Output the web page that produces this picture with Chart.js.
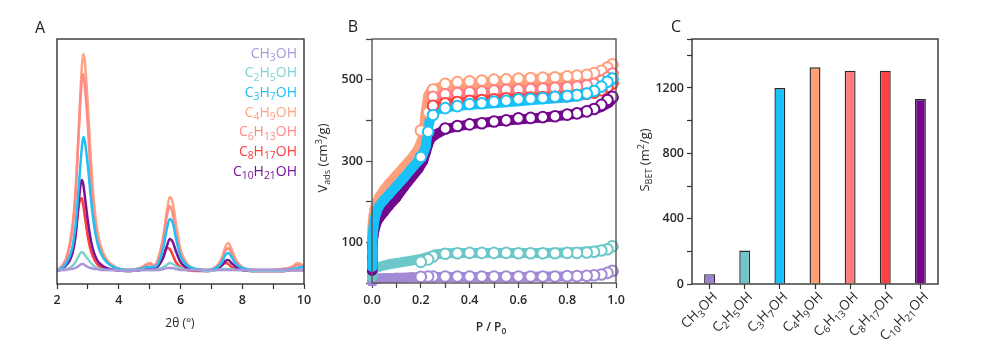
<!DOCTYPE html>
<html><head><meta charset="utf-8">
<script src="https://cdn.jsdelivr.net/npm/chart.js@4.4.1/dist/chart.umd.min.js"></script>
<style>
html,body{margin:0;padding:0;background:#fff;}
#wrap{position:relative;width:987px;height:354px;overflow:hidden;background:#fff;}
canvas{position:absolute;left:0;top:0;}
</style></head><body>
<div id="wrap">
<canvas id="cA" width="987" height="354"></canvas>
<canvas id="cB" width="987" height="354"></canvas>
<canvas id="cC" width="987" height="354"></canvas>
</div>
<script>
// ---------- DATA ----------
const alcohols = ['CH3OH','C2H5OH','C3H7OH','C4H9OH','C6H13OH','C8H17OH','C10H21OH'];

// Panel A: XRD, 2theta (deg) and intensity (a.u.)
const twoTheta = [2.0,2.1,2.2,2.3,2.4,2.5,2.6,2.7,2.8,2.85,2.9,3.0,3.1,3.2,3.3,3.4,3.6,3.9,4.3,4.7,4.9,5.0,5.15,5.3,5.45,5.55,5.65,5.75,5.85,6.0,6.2,6.5,6.9,7.2,7.35,7.45,7.55,7.65,7.8,8.0,8.4,8.9,9.3,9.6,9.8,9.9,10.0];
const xrdCH3OH   = [1,1,1,1,2,2,3,5,7,7,6,4,3,2,2,1,1,1,0,1,1,1,1,1,2,3,3,3,2,1,1,1,1,1,1,1,1,1,1,1,1,1,1,1,1,1,1];
const xrdC2H5OH  = [0,1,1,2,3,5,9,15,19,18,16,12,8,5,3,2,1,1,0,1,1,1,1,2,4,6,8,7,5,3,1,1,0,1,2,2,2,2,1,1,0,0,0,1,1,1,1];
const xrdC3H7OH  = [0,2,4,8,14,24,45,82,122,134,130,105,72,46,29,19,9,3,1,2,4,4,4,9,24,41,52,48,33,15,6,2,1,4,9,16,18,14,7,3,1,1,1,2,3,4,4];
const xrdC4H9OH  = [0,3,7,13,25,45,80,140,202,217,210,165,110,68,42,27,12,4,1,3,7,8,6,15,36,58,74,68,48,22,8,2,1,6,14,24,28,22,11,4,1,1,2,4,8,7,5];
const xrdC6H13OH = [0,3,6,12,24,42,76,135,190,197,185,145,90,55,34,22,10,3,1,3,6,7,5,13,34,54,65,57,38,17,6,2,1,5,12,20,23,18,9,3,1,1,2,3,6,5,4];
const xrdC8H17OH = [0,1,3,6,10,18,36,64,73,66,55,34,20,12,7,4,2,1,0,1,2,2,2,6,15,23,22,16,9,4,1,0,0,2,6,8,7,4,2,1,0,0,0,1,1,1,1];
const xrdC10H21OH= [0,1,3,6,10,18,35,68,91,87,75,50,30,18,11,7,3,1,0,1,2,2,2,6,14,24,32,29,20,9,3,1,0,2,6,10,11,8,4,1,0,0,0,1,1,1,1];
const xTickLabelsA = [2,4,6,8,10];

// Panel B: N2 isotherms, P/P0 and Vads (cm3/g)
const pRelAds = [0.0,0.001,0.003,0.006,0.01,0.02,0.03,0.05,0.07,0.10,0.13,0.16,0.19,0.21,0.22,0.23,0.24,0.26,0.30,0.35,0.40,0.50,0.60,0.70,0.80,0.85,0.90,0.94,0.97,0.99];
const adsCH3OH   = [2,4,6,8,9,10,11,12,12,13,13,14,14,14,15,15,15,15,15,15,15,15,15,16,16,17,18,20,24,28];
const adsC2H5OH  = [15,22,28,32,35,38,40,43,46,49,52,55,58,60,62,64,66,70,73,74,74,74,74,74,75,76,78,81,85,89];
const adsC3H7OH  = [40,75,110,135,155,178,190,205,218,238,258,280,300,318,335,380,410,425,432,435,438,442,447,452,456,460,468,478,490,500];
const adsC4H9OH  = [50,100,140,165,180,200,212,230,245,265,285,305,330,360,420,460,470,478,485,488,490,495,498,502,506,509,513,520,528,535];
const adsC6H13OH = [44,88,125,150,168,188,200,216,231,251,271,292,315,340,390,438,450,458,464,468,471,475,478,481,485,488,493,500,508,516];
const adsC8H17OH = [40,78,112,138,158,180,193,208,222,242,262,284,305,325,360,420,435,445,450,453,455,458,460,463,466,468,472,478,485,492];
const adsC10H21OH= [30,65,95,115,130,150,160,175,190,210,235,258,280,300,320,340,355,365,378,385,390,397,402,407,413,418,425,433,443,455];
const pRelDes = [0.985,0.965,0.94,0.91,0.88,0.84,0.80,0.75,0.70,0.65,0.60,0.55,0.50,0.45,0.40,0.35,0.30,0.25,0.23,0.20];
const desCH3OH   = [30,25,21,19,18,17,17,16,16,16,16,16,16,16,16,16,16,16,16,15];
const desC2H5OH  = [90,83,80,77,75,74,74,73,73,73,73,74,74,74,74,73,72,65,58,52];
const desC3H7OH  = [503,495,483,472,466,462,460,458,455,453,452,448,446,442,440,435,430,413,372,310];
const desC4H9OH  = [538,530,522,516,512,510,508,506,505,504,503,501,500,498,496,494,490,476,420,375];
const desC6H13OH = [515,505,497,490,486,483,481,480,478,477,476,475,473,471,469,467,464,458,null,null];
const desC8H17OH = [490,482,474,468,465,462,460,458,457,456,455,454,452,450,448,445,442,436,null,null];
const desC10H21OH= [458,450,438,428,422,417,414,410,408,406,405,400,397,393,390,386,380,null,null,null];
const yTickLabelsB = [100,300,500];

// Panel C: BET surface area (m2/g)
const sBET = [60,205,1200,1327,1306,1306,1132];
const yTickLabelsC = [0,400,800,1200];

// ---------- STYLES ----------
const lineColorsA = ['#ab96dc','#7fd0cf','#22c0f2','#ffa384','#ff8a86','#ff3d3d','#7b1396'];
const colorsB = ['#a38ad6','#6cc8c8','#18c2f8','#ffa07c','#ff7e80','#ff4242','#72088e'];
const colorsC = ['#9b80d2','#6cc6ca','#19c0f9','#ffa07a','#ff7c7c','#fc4242','#75078f'];
const FONT = "'Open Sans', 'DejaVu Sans', sans-serif";
const TXT = '#2a2a2a';

// ---------- helpers ----------
function chemSegs(s){
  return s.split(/(\d+)/).filter(t=>t.length).map(t=>({t, sub:/^\d+$/.test(t)}));
}
function drawRich(ctx, segs, x, y, size, color, align, weight, ratio){
  weight = weight || 'normal'; ratio = ratio || 0.7;
  const big = weight+' '+size+'px '+FONT;
  const small = weight+' '+(size*ratio).toFixed(2)+'px '+FONT;
  ctx.save();
  ctx.fillStyle = color; ctx.textBaseline = 'alphabetic'; ctx.textAlign = 'left';
  let w = 0;
  segs.forEach(s=>{ ctx.font = (s.sub||s.sup)?small:big; s.w = ctx.measureText(s.t).width; w += s.w; });
  let cx = align==='right' ? x-w : (align==='center' ? x-w/2 : x);
  segs.forEach(s=>{
    ctx.font = (s.sub||s.sup)?small:big;
    const dy = s.sub ? size*0.24 : (s.sup ? -size*0.42 : 0);
    ctx.fillText(s.t, cx, y+dy);
    cx += s.w;
  });
  ctx.restore();
}
function frame(chart, color, lw){
  const a = chart.chartArea, ctx = chart.ctx;
  ctx.save(); ctx.strokeStyle = color; ctx.lineWidth = lw;
  ctx.strokeRect(a.left, a.top, a.right-a.left, a.bottom-a.top);
  ctx.restore();
}
function panelLetter(ctx, t, x, y){
  ctx.save(); ctx.font = '16px '+FONT; ctx.fillStyle = '#222';
  ctx.textAlign='center'; ctx.textBaseline='middle'; ctx.fillText(t, x, y); ctx.restore();
}
const tickFont = {family: FONT, size: 12.5, weight: '600'};
const common = {responsive:false, animation:false, devicePixelRatio:1, events:[],
  plugins:{legend:{display:false}, tooltip:{enabled:false}}};

// ---------- Panel A ----------
const xrdSeries = [xrdCH3OH, xrdC2H5OH, xrdC3H7OH, xrdC4H9OH, xrdC6H13OH, xrdC8H17OH, xrdC10H21OH];
const orderA = [0,1,2,6,5,4,3];
new Chart(document.getElementById('cA'), {
  type:'line',
  data:{datasets: xrdSeries.map((s,i)=>({
    label: alcohols[i],
    data: twoTheta.map((x,j)=>({x:x, y:s[j]})),
    borderColor: lineColorsA[i], borderWidth: 2.5, pointRadius: 0,
    cubicInterpolationMode:'monotone', fill:false, order: orderA[i]
  }))},
  options: Object.assign({}, common, {
    layout:{padding:{left:57, right:987-304, top:39, bottom:354-284-30}},
    scales:{
      x:{type:'linear', min:2, max:10, afterFit:s=>{s.height=30;},
         ticks:{stepSize:1, autoSkip:false, maxRotation:0, padding:4, color:TXT, font:tickFont,
                callback:v=> xTickLabelsA.includes(v) ? String(v) : ''},
         grid:{drawOnChartArea:false, tickLength:5, tickColor:'#333', tickWidth:1.2},
         border:{display:false}},
      y:{min:-13, max:232, afterFit:s=>{s.width=0;}, ticks:{display:false},
         grid:{display:false}, border:{display:false}}
    }
  }),
  plugins:[{id:'decoA', afterDraw(chart){
    const ctx = chart.ctx;
    frame(chart, '#333', 1.4);
    panelLetter(ctx, 'A', 40, 28);
    alcohols.forEach((n,i)=>{
      drawRich(ctx, chemSegs(n), 297, 57.5 + i*19.67, 14, lineColorsA[i], 'right', 'normal', 0.74);
    });
    drawRich(ctx, [{t:'2θ (°)'}], 180, 327, 12, TXT, 'center');
  }}]
});

// ---------- Panel B ----------
const adsSeries = [adsCH3OH, adsC2H5OH, adsC3H7OH, adsC4H9OH, adsC6H13OH, adsC8H17OH, adsC10H21OH];
const desSeries = [desCH3OH, desC2H5OH, desC3H7OH, desC4H9OH, desC6H13OH, desC8H17OH, desC10H21OH];
const orderOpen = [6,5,0,4,3,2,1];
const orderFill = [6,5,0,2,3,4,1];
const dsB = [];
adsSeries.forEach((s,i)=>{
  dsB.push({label: alcohols[i]+' ads', showLine:true,
    data: pRelAds.map((p,j)=>({x:p, y:s[j]})),
    borderColor: colorsB[i], borderWidth: 10, borderCapStyle:'round', borderJoinStyle:'round',
    pointRadius: 5, pointBackgroundColor: colorsB[i], pointBorderWidth: 0,
    order: 7 + orderFill[i], clip:{left:6, top:0, right:6, bottom:3}});
});
desSeries.forEach((s,i)=>{
  dsB.push({label: alcohols[i]+' des', showLine:false,
    data: pRelDes.map((p,j)=>({x:p, y:s[j]})).filter(d=>d.y!==null),
    pointRadius: 5.3, pointBackgroundColor:'#ffffff', pointBorderColor: colorsB[i], pointBorderWidth: 2,
    order: orderOpen[i], clip:{left:6, top:0, right:8, bottom:3}});
});
new Chart(document.getElementById('cB'), {
  type:'scatter',
  data:{datasets: dsB},
  options: Object.assign({}, common, {
    layout:{padding:{left:372-40, right:987-616, top:39, bottom:354-283-30}},
    scales:{
      x:{type:'linear', min:0, max:1, afterFit:s=>{s.height=30;},
         ticks:{stepSize:0.1, autoSkip:false, maxRotation:0, padding:5, color:TXT, font:tickFont,
                callback:v=> (Math.round(v*10)%2===0) ? v.toFixed(1) : ''},
         grid:{drawOnChartArea:false, tickLength:5, tickColor:'#444', tickWidth:1.2},
         border:{display:false}},
      y:{min:0, max:600, afterFit:s=>{s.width=40;},
         ticks:{stepSize:100, autoSkip:false, padding:3, color:TXT, font:tickFont,
                callback:v=> yTickLabelsB.includes(v) ? String(v) : ''},
         grid:{drawOnChartArea:false, tickLength:6, tickColor:'#444', tickWidth:1.2},
         border:{display:false}}
    }
  }),
  plugins:[{id:'decoB', afterDraw(chart){
    const ctx = chart.ctx;
    frame(chart, '#555', 1.4);
    panelLetter(ctx, 'B', 353, 27);
    drawRich(ctx, [{t:'P / P', }, {t:'0', sub:true}], 491, 331, 12, TXT, 'center', '600');
    ctx.save(); ctx.translate(327, 158); ctx.rotate(-Math.PI/2);
    drawRich(ctx, [{t:'V'},{t:'ads',sub:true},{t:' (cm'},{t:'3',sup:true},{t:'/g)'}], 0, 0, 13, TXT, 'center');
    ctx.restore();
  }}]
});

// ---------- Panel C ----------
new Chart(document.getElementById('cC'), {
  type:'bar',
  data:{labels: alcohols, datasets:[{label:'SBET', data:sBET,
    backgroundColor: colorsC, borderColor:'#2a2a2a', borderWidth:1.4,
    barPercentage:0.31, categoryPercentage:1.0}]},
  options: Object.assign({}, common, {
    layout:{padding:{left:692-40, right:987-938, top:39, bottom:354-284-30}},
    scales:{
      x:{afterFit:s=>{s.height=30;}, ticks:{display:false},
         grid:{drawOnChartArea:false, offset:false, tickLength:5, tickColor:'#333', tickWidth:1.2},
         border:{display:false}},
      y:{min:0, max:1500, afterFit:s=>{s.width=40;},
         ticks:{stepSize:200, autoSkip:false, padding:3, color:TXT, font:tickFont,
                callback:v=> yTickLabelsC.includes(v) ? String(v) : ''},
         grid:{drawOnChartArea:false, tickLength:5, tickColor:'#333', tickWidth:1.2},
         border:{display:false}}
    }
  }),
  plugins:[{id:'decoC', afterDraw(chart){
    const ctx = chart.ctx, xs = chart.scales.x, a = chart.chartArea;
    frame(chart, '#333', 1.4);
    panelLetter(ctx, 'C', 676, 27);
    alcohols.forEach((n,i)=>{
      const x = xs.getPixelForTick(i);
      ctx.save(); ctx.translate(x+5, a.bottom+10); ctx.rotate(-Math.PI/4);
      drawRich(ctx, chemSegs(n), 0, 5, 13.5, TXT, 'right', 'normal', 0.74);
      ctx.restore();
    });
    ctx.save(); ctx.translate(649, 160); ctx.rotate(-Math.PI/2);
    drawRich(ctx, [{t:'S'},{t:'BET',sub:true},{t:' (m'},{t:'2',sup:true},{t:'/g)'}], 0, 0, 13, TXT, 'center');
    ctx.restore();
  }}]
});
</script>
</body></html>
